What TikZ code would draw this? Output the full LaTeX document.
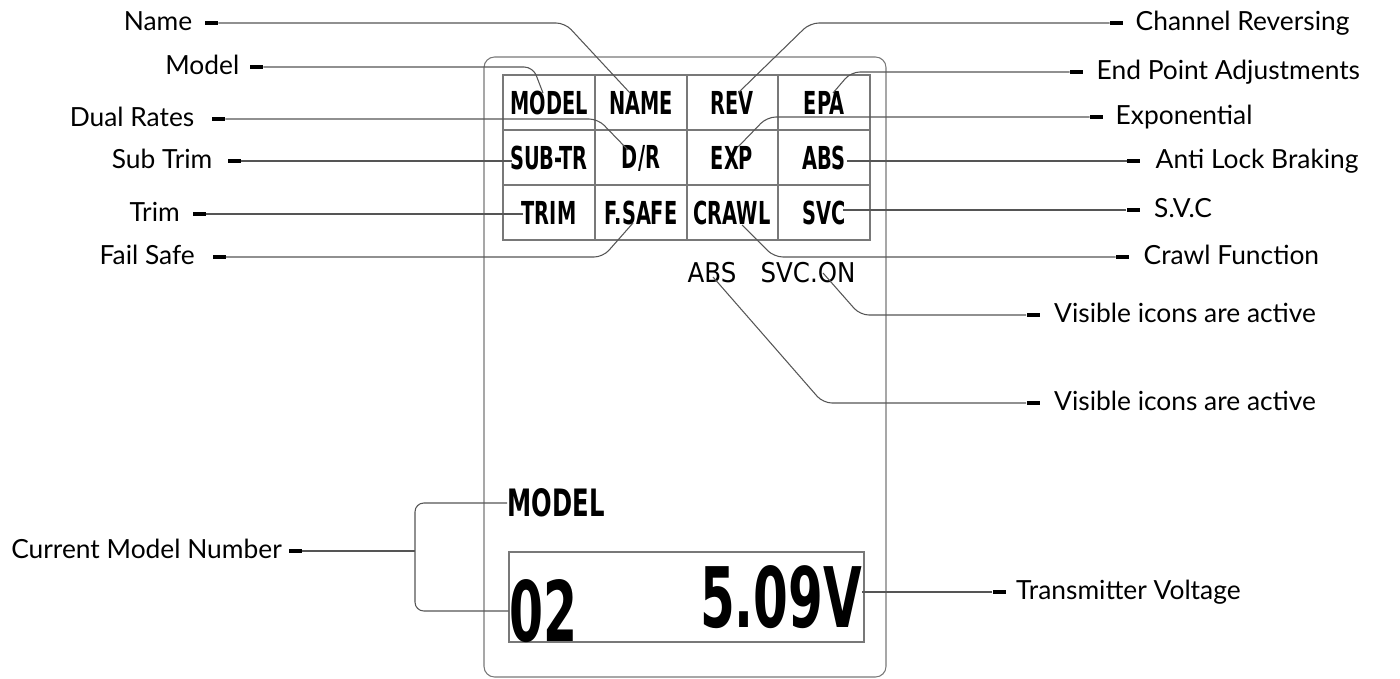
\documentclass[tikz,border=0pt]{standalone}
\usepackage{fontspec}
\usepackage{graphicx}
\setmainfont{Lato}
\newfontfamily\cellfont{DejaVu Sans Condensed}
\usetikzlibrary{positioning}
\definecolor{LineGray}{RGB}{85,85,85}
\definecolor{FrameGray}{RGB}{120,120,120}

\newcommand{\squash}[1]{\scalebox{0.68}[1]{#1}}

\tikzset{
	lbl/.style={font=\fontsize{15}{15}\selectfont, text height=9pt, text depth=0pt, inner sep=0pt},
	tickbar/.style={fill=black, minimum width=0.26cm, minimum height=0.07cm, inner sep=0pt},
	conn/.style={draw=LineGray, line width=0.6pt, rounded corners=5pt},
	grid/.style={draw=FrameGray, line width=0.6pt},
	cell/.style={font=\cellfont\bfseries\fontsize{18}{18}\selectfont, inner sep=0pt},
	icon/.style={font=\cellfont\fontsize{15.5}{15.5}\selectfont, inner sep=0pt}
}

\begin{document}
\begin{tikzpicture}[x=0.02cm, y=-0.02cm]
	\useasboundingbox (0,0) rectangle (1400,679);
	
	% transmitter screen
	\draw[grid, rounded corners=6pt] (484,57) rectangle (886,677);
	\draw[grid] (503,75) rectangle (870,240);
	\foreach \x in {595,687,778} \draw[grid] (\x,75) -- (\x,240);
	\foreach \y in {130,185} \draw[grid] (503,\y) -- (870,\y);
	
	\node[cell] (mModel) at (549,103) {\squash{MODEL}};
	\node[cell] (mName) at (641,103) {\squash{NAME}};
	\node[cell] (mRev) at (732,103) {\squash{REV}};
	\node[cell] (mEpa) at (824,103) {\squash{EPA}};
	\node[cell] (mSub) at (549,158) {\squash{SUB-TR}};
	\node[cell] (mDr) at (641,158) {\squash{D/R}};
	\node[cell] (mExp) at (732,158) {\squash{EXP}};
	\node[cell] (mAbs) at (824,158) {\squash{ABS}};
	\node[cell] (mTrim) at (549,213) {\squash{TRIM}};
	\node[cell] (mSafe) at (641,213) {\squash{F.SAFE}};
	\node[cell] (mCrawl) at (732,213) {\squash{CRAWL}};
	\node[cell] (mSvc) at (824,213) {\squash{SVC}};
	
	\node[icon] (iAbs) at (712,273) {ABS};
	\node[icon] (iSvc) at (808,273) {SVC.ON};
	
	\node[inner sep=0pt] (bigModel) at (556,503) {\resizebox{1.94cm}{0.56cm}{\cellfont\bfseries MODEL}};
	\draw[grid] (509,552) rectangle (864,642);
	\node[inner sep=0pt] (num) at (543,611) {\resizebox{1.36cm}{1.24cm}{\cellfont\bfseries 02}};
	\node[inner sep=0pt] (volt) at (781,597) {\resizebox{3.24cm}{1.24cm}{\cellfont\bfseries 5.09V}};
	
	% connector ends
	\coordinate (tName) at (630,93);
	\coordinate (tModel) at (543,93);
	\coordinate (tDr) at (628,150);
	\coordinate (tSub) at (512,161);
	\coordinate (tTrim) at (523,214);
	\coordinate (tSafe) at (633,223);
	\coordinate (tRev) at (738,93);
	\coordinate (tEpa) at (833,93);
	\coordinate (tExp) at (738,147);
	\coordinate (tAbs) at (847,161);
	\coordinate (tSvc) at (843,210);
	\coordinate (tCrawl) at (742,225);
	\coordinate (tIconSvc) at (823,273);
	\coordinate (tIconAbs) at (713,277);
	\coordinate (tBracket) at (415,551);
	
	% left callouts
	\node[tickbar] (sName) at (211.5,23) {};
	\node[lbl, left=0.24cm of sName] (lName) {Name};
	\draw[conn] (sName.east) -- (565,23) -- (tName);
	
	\node[tickbar] (sModel) at (256.5,67) {};
	\node[lbl, left=0.2cm of sModel] (lModel) {Model};
	\draw[conn] (sModel.east) -- (533,67) -- (tModel);
	
	\node[tickbar] (sDr) at (218.5,119) {};
	\node[lbl, left=0.34cm of sDr] (lDr) {Dual Rates};
	\draw[conn] (sDr.east) -- (598,119) -- (tDr);
	
	\node[tickbar] (sSub) at (234.5,161) {};
	\node[lbl, left=0.3cm of sSub] (lSub) {Sub Trim};
	\draw[conn] (sSub.east) -- (tSub);
	
	\node[tickbar] (sTrim) at (199,214) {};
	\node[lbl, left=0.24cm of sTrim] (lTrim) {Trim};
	\draw[conn] (sTrim.east) -- (tTrim);
	
	\node[tickbar] (sSafe) at (219,257) {};
	\node[lbl, left=0.34cm of sSafe] (lSafe) {Fail Safe};
	\draw[conn] (sSafe.east) -- (603,257) -- (tSafe);
	
	\node[tickbar] (sCur) at (295,551) {};
	\node[lbl, left=0.12cm of sCur] (lCur) {Current Model Number};
	\draw[conn] (sCur.east) -- (tBracket);
	\draw[conn] (bigModel.west) -- (415,503) -- (415,611) -- (num.west);
	
	% right callouts
	\node[tickbar] (sRev) at (1116.5,23) {};
	\node[lbl, right=0.24cm of sRev] (lRev) {Channel Reversing};
	\draw[conn] (sRev.west) -- (810,23) -- (tRev);
	
	\node[tickbar] (sEpa) at (1076.5,72) {};
	\node[lbl, right=0.26cm of sEpa] (lEpa) {End Point Adjustments};
	\draw[conn] (sEpa.west) -- (851,72) -- (tEpa);
	
	\node[tickbar] (sExp) at (1096.5,117) {};
	\node[lbl, right=0.24cm of sExp] (lExp) {Exponential};
	\draw[conn] (sExp.west) -- (767,117) -- (tExp);
	
	\node[tickbar] (sAbs) at (1133.5,161) {};
	\node[lbl, right=0.3cm of sAbs] (lAbs) {Anti Lock Braking};
	\draw[conn] (sAbs.west) -- (tAbs);
	
	\node[tickbar] (sSvc) at (1133,210) {};
	\node[lbl, right=0.28cm of sSvc] (lSvc) {S.V.C};
	\draw[conn] (sSvc.west) -- (tSvc);
	
	\node[tickbar] (sCrawl) at (1122.5,257) {};
	\node[lbl, right=0.28cm of sCrawl] (lCrawl) {Crawl Function};
	\draw[conn] (sCrawl.west) -- (774,257) -- (tCrawl);
	
	\node[tickbar] (sIconSvc) at (1033,315) {};
	\node[lbl, right=0.28cm of sIconSvc] (lIconSvc) {Visible icons are active};
	\draw[conn] (sIconSvc.west) -- (860,315) -- (tIconSvc);
	
	\node[tickbar] (sIconAbs) at (1033,403) {};
	\node[lbl, right=0.28cm of sIconAbs] (lIconAbs) {Visible icons are active};
	\draw[conn] (sIconAbs.west) -- (823,403) -- (tIconAbs);
	
	\node[tickbar] (sVolt) at (999,592) {};
	\node[lbl, right=0.2cm of sVolt] (lVolt) {Transmitter Voltage};
	\draw[conn] (sVolt.west) -- (volt.east |- sVolt);
\end{tikzpicture}
\end{document}
